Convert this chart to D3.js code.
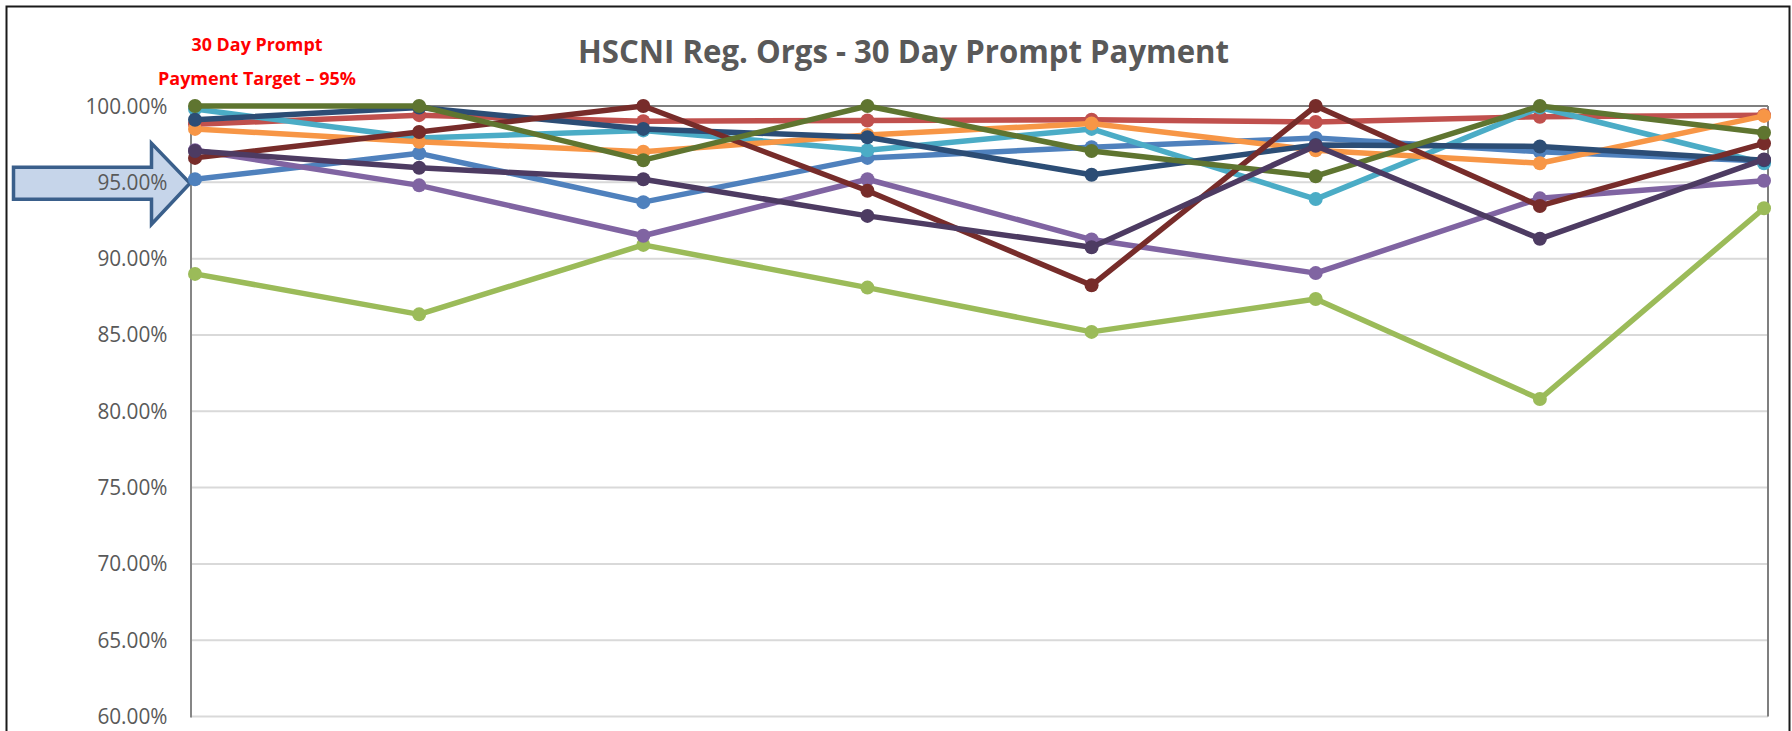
<!DOCTYPE html>
<html>
<head>
<meta charset="utf-8">
<script src="https://cdn.jsdelivr.net/npm/d3@7"></script>
<style>
  body { margin: 0; background: #fff; }
</style>
</head>
<body>
<div id="chart"></div>
<script>
// periods along the x axis (no labels shown on the original)
var periods = ["P1", "P2", "P3", "P4", "P5", "P6", "P7", "P8"];

var orgs = ["Org 1", "Org 2", "Org 3", "Org 4", "Org 5", "Org 6", "Org 7", "Org 8", "Org 9", "Org 10"];
var colours = ["#4F81BD", "#C0504D", "#9BBB59", "#8064A2", "#4BACC6", "#F79646", "#2C4D75", "#772C2A", "#5F7530", "#4D3B62"];

// % of invoices paid within 30 days
var org1  = [95.2, 96.9, 93.7, 96.6, 97.3, 97.9, 97.0, 96.4];
var org2  = [98.8, 99.4, 99.0, 99.05, 99.1, 98.95, 99.3, 99.4];
var org3  = [89.0, 86.35, 90.9, 88.1, 85.2, 87.35, 80.8, 93.3];
var org4  = [97.1, 94.8, 91.5, 95.2, 91.25, 89.05, 93.95, 95.1];
var org5  = [99.8, 97.9, 98.4, 97.1, 98.5, 93.9, 99.9, 96.25];
var org6  = [98.5, 97.65, 97.0, 98.1, 98.85, 97.1, 96.25, 99.35];
var org7  = [99.1, 99.9, 98.5, 97.95, 95.5, 97.45, 97.35, 96.45];
var org8  = [96.6, 98.3, 100, 94.45, 88.25, 100, 93.45, 97.55];
var org9  = [100, 100, 96.45, 100, 97.05, 95.4, 100, 98.25];
var org10 = [97.05, 95.95, 95.2, 92.8, 90.75, 97.4, 91.3, 96.5];

var yTicks = [60, 65, 70, 75, 80, 85, 90, 95, 100];
var target = 95;

var allSeries = [org1, org2, org3, org4, org5, org6, org7, org8, org9, org10];

var width = 1792, height = 731;
var plot = { left: 191, right: 1768, top: 106, bottom: 716.5 };

var svg = d3.select("#chart")
    .append("svg")
    .attr("width", width)
    .attr("height", height);

// outer chart frame
svg.append("rect")
    .attr("x", 6.5)
    .attr("y", 6.5)
    .attr("width", 1783)
    .attr("height", 740)
    .style("fill", "#fff")
    .style("stroke", "#1a1a1a")
    .style("stroke-width", 2);

var x = d3.scalePoint()
    .domain(periods)
    .range([plot.left + 4, plot.right - 4]);

var y = d3.scaleLinear()
    .domain([60, 100])
    .range([plot.bottom, plot.top]);

// gridlines
svg.append("g")
    .selectAll("line")
    .data(yTicks)
    .enter()
    .append("line")
    .attr("x1", plot.left)
    .attr("x2", plot.right)
    .attr("y1", function(d) { return y(d); })
    .attr("y2", function(d) { return y(d); })
    .style("stroke", function(d) { return d == 100 ? "#7f7f7f" : "#d9d9d9"; })
    .style("stroke-width", 2);

// plot area right edge and value axis
svg.append("line")
    .attr("x1", plot.right).attr("x2", plot.right)
    .attr("y1", plot.top).attr("y2", plot.bottom)
    .style("stroke", "#7f7f7f")
    .style("stroke-width", 2);

svg.append("line")
    .attr("x1", plot.left).attr("x2", plot.left)
    .attr("y1", plot.top).attr("y2", plot.bottom + 1)
    .style("stroke", "#868686")
    .style("stroke-width", 2);

// target arrow pointing at 95%
var ay = y(target) + 1;
var arrow = [
    [13.5, ay - 16], [151.5, ay - 16], [151.5, ay - 40],
    [190, ay], [151.5, ay + 41], [151.5, ay + 16], [13.5, ay + 16]
];
svg.append("path")
    .attr("d", d3.line()(arrow) + "Z")
    .style("fill", "#c6d5ea")
    .style("stroke", "#3a5f8b")
    .style("stroke-width", 3.5)
    .style("stroke-linejoin", "miter");

// y labels, squeezed a bit so "100.00%" is ~82px wide like the original
var fmt = d3.format(".2f");
var labels = svg.append("g")
    .selectAll("text")
    .data(yTicks)
    .enter()
    .append("text")
    .attr("x", 167.5)
    .attr("y", function(d) { return y(d) + 7.5; })
    .attr("text-anchor", "end")
    .text(function(d) { return fmt(d) + "%"; })
    .style("fill", "#595959")
    .style("font-family", "Open Sans, sans-serif")
    .style("font-size", "21px");

var wTop = labels.filter(function(d) { return d == 100; }).node().getComputedTextLength();
labels.each(function() {
    var w = this.getComputedTextLength();
    d3.select(this)
        .attr("textLength", w * 82 / wTop)
        .attr("lengthAdjust", "spacingAndGlyphs");
});

// series
var line = d3.line()
    .x(function(d, i) { return x(periods[i]); })
    .y(function(d) { return y(d); });

allSeries.forEach(function(values, s) {
    var g = svg.append("g").attr("class", "series");
    g.append("path")
        .attr("d", line(values))
        .style("fill", "none")
        .style("stroke", colours[s])
        .style("stroke-width", 5.5)
        .style("stroke-linejoin", "round");
    g.selectAll("circle")
        .data(values)
        .enter()
        .append("circle")
        .attr("cx", function(d, i) { return x(periods[i]); })
        .attr("cy", function(d) { return y(d); })
        .attr("r", 7)
        .style("fill", colours[s]);
});

// title
svg.append("text")
    .attr("x", 578)
    .attr("y", 63)
    .attr("textLength", 651)
    .attr("lengthAdjust", "spacingAndGlyphs")
    .text("HSCNI Reg. Orgs - 30 Day Prompt Payment")
    .style("fill", "#595959")
    .style("font-family", "Open Sans, sans-serif")
    .style("font-weight", "bold")
    .style("font-size", "32px");

// target note
svg.append("text")
    .attr("x", 191.5)
    .attr("y", 51)
    .attr("textLength", 131)
    .attr("lengthAdjust", "spacingAndGlyphs")
    .text("30 Day Prompt")
    .style("fill", "#ff0000")
    .style("font-family", "Open Sans, sans-serif")
    .style("font-weight", "bold")
    .style("font-size", "17px");

svg.append("text")
    .attr("x", 158)
    .attr("y", 84.5)
    .attr("textLength", 198)
    .attr("lengthAdjust", "spacingAndGlyphs")
    .text("Payment Target \u2013 95%")
    .style("fill", "#ff0000")
    .style("font-family", "Open Sans, sans-serif")
    .style("font-weight", "bold")
    .style("font-size", "17px");
</script>
</body>
</html>
